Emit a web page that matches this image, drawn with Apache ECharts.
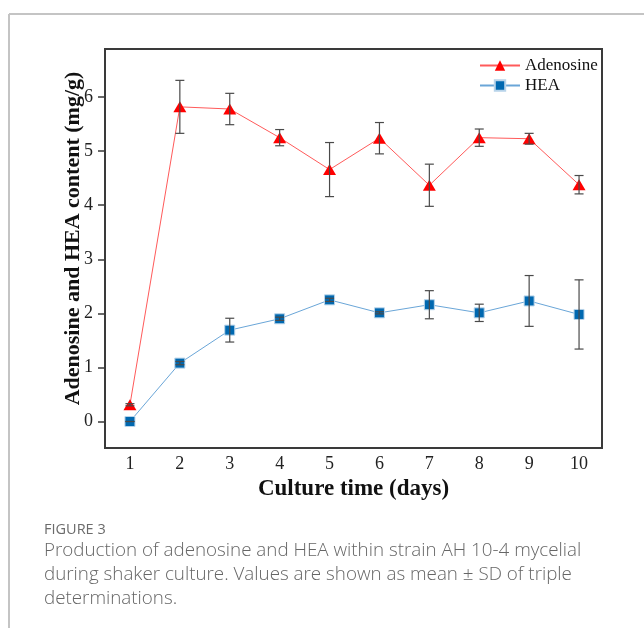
<!DOCTYPE html>
<html>
<head>
<meta charset="utf-8">
<script src="https://cdn.jsdelivr.net/npm/echarts@6/dist/echarts.min.js"></script>
<style>
  html, body { margin: 0; padding: 0; background: #fff; }
  #chart { width: 644px; height: 628px; }
</style>
</head>
<body>
<div id="chart"></div>
<script>
// Culture days and measured contents (mg/g), mean and SD of triple determinations
const days = [1, 2, 3, 4, 5, 6, 7, 8, 9, 10];
const adenosineMean = [0.31, 5.82, 5.78, 5.25, 4.66, 5.24, 4.37, 5.25, 5.23, 4.38];
const adenosineSD   = [0.02, 0.49, 0.29, 0.15, 0.50, 0.29, 0.39, 0.16, 0.10, 0.17];
const heaMean = [0.00, 1.08, 1.69, 1.90, 2.25, 2.01, 2.16, 2.01, 2.23, 1.98];
const heaSD   = [0.00, 0.03, 0.22, 0.03, 0.03, 0.02, 0.26, 0.16, 0.47, 0.64];
const yTicks = [0, 1, 2, 3, 4, 5, 6];

const serif = '"Liberation Serif", "Times New Roman", serif';
const sans = '"Open Sans", "Noto Sans", sans-serif';

function pairs(means) {
  return days.map((d, i) => [d, means[i]]);
}
function errorData(means, sds) {
  return days.map((d, i) => [d, means[i], sds[i]]);
}

// Vertical error bar with caps
function renderErrorBar(params, api) {
  const x = api.value(0), m = api.value(1), s = api.value(2);
  const top = api.coord([x, m + s]);
  const bot = api.coord([x, m - s]);
  const cap = 4.5;
  const style = { stroke: '#4a4a4a', lineWidth: 1.2 };
  return {
    type: 'group',
    children: [
      { type: 'line', shape: { x1: top[0], y1: top[1], x2: bot[0], y2: bot[1] }, style },
      { type: 'line', shape: { x1: top[0] - cap, y1: top[1], x2: top[0] + cap, y2: top[1] }, style },
      { type: 'line', shape: { x1: bot[0] - cap, y1: bot[1], x2: bot[0] + cap, y2: bot[1] }, style }
    ]
  };
}

const chart = echarts.init(document.getElementById('chart'));
chart.setOption({
  backgroundColor: '#fff',
  animation: false,
  grid: {
    left: 105, top: 49, right: 42, bottom: 180,
    show: true, borderColor: '#3a3a3a', borderWidth: 2, backgroundColor: 'transparent'
  },
  legend: {
    left: 474, top: 52, orient: 'vertical',
    itemWidth: 40, itemHeight: 13, itemGap: 3,
    textStyle: { fontFamily: serif, fontSize: 17, color: '#111' },
    data: ['Adenosine', 'HEA']
  },
  xAxis: {
    type: 'value', min: 0.5, max: 10.46,
    axisLine: { show: false },
    axisTick: { show: false },
    splitLine: { show: false },
    axisLabel: { customValues: days, fontFamily: serif, fontSize: 18, color: '#222', margin: 7 },
    name: 'Culture time (days)', nameLocation: 'middle', nameGap: 28,
    nameTextStyle: { fontFamily: serif, fontSize: 23, fontWeight: 'bold', color: '#111' }
  },
  yAxis: {
    type: 'value', min: -0.49, max: 6.89,
    axisLine: { show: false },
    axisTick: { show: true, customValues: yTicks, length: 7, lineStyle: { color: '#3a3a3a', width: 1.5 } },
    splitLine: { show: false },
    axisLabel: { customValues: yTicks, fontFamily: serif, fontSize: 18, color: '#222', margin: 12 },
    name: 'Adenosine and HEA content (mg/g)', nameLocation: 'middle', nameGap: 21,
    nameMoveOverlap: false,
    nameTextStyle: { fontFamily: serif, fontSize: 22, fontWeight: 'bold', color: '#111', padding: [0, 0, 0, 20] }
  },
  series: [
    {
      name: 'Adenosine', type: 'line', data: pairs(adenosineMean),
      symbol: 'triangle', symbolSize: [13, 11],
      lineStyle: { color: '#ff5a5a', width: 1 },
      itemStyle: { color: '#ff0000' },
      z: 3
    },
    {
      name: 'HEA', type: 'line', data: pairs(heaMean),
      symbol: 'rect', symbolSize: 10,
      lineStyle: { color: '#6aa6d8', width: 1 },
      itemStyle: { color: '#0068b0', borderColor: '#b8d4ea', borderWidth: 1 },
      z: 3
    },
    {
      type: 'custom', data: errorData(adenosineMean, adenosineSD),
      renderItem: renderErrorBar, z: 4, silent: true
    },
    {
      type: 'custom', data: errorData(heaMean, heaSD),
      renderItem: renderErrorBar, z: 4, silent: true
    }
  ],
  graphic: [
    { type: 'line', shape: { x1: 9, y1: 14, x2: 644, y2: 14 }, style: { stroke: '#c4c4c4', lineWidth: 2 } },
    { type: 'line', shape: { x1: 9, y1: 14, x2: 9, y2: 628 }, style: { stroke: '#c4c4c4', lineWidth: 2 } },
    { type: 'text', left: 44, top: 522, style: { text: 'FIGURE 3', fontFamily: sans, fontSize: 14.5, fill: '#6b6b6b' } },
    {
      type: 'text', left: 44, top: 539,
      style: {
        text: 'Production of adenosine and HEA within strain AH 10-4 mycelial\nduring shaker culture. Values are shown as mean \u00b1 SD of triple\ndeterminations.',
        fontFamily: sans, fontSize: 18.8, lineHeight: 24, fill: '#666666', fontWeight: 300
      }
    }
  ]
});
</script>
</body>
</html>
